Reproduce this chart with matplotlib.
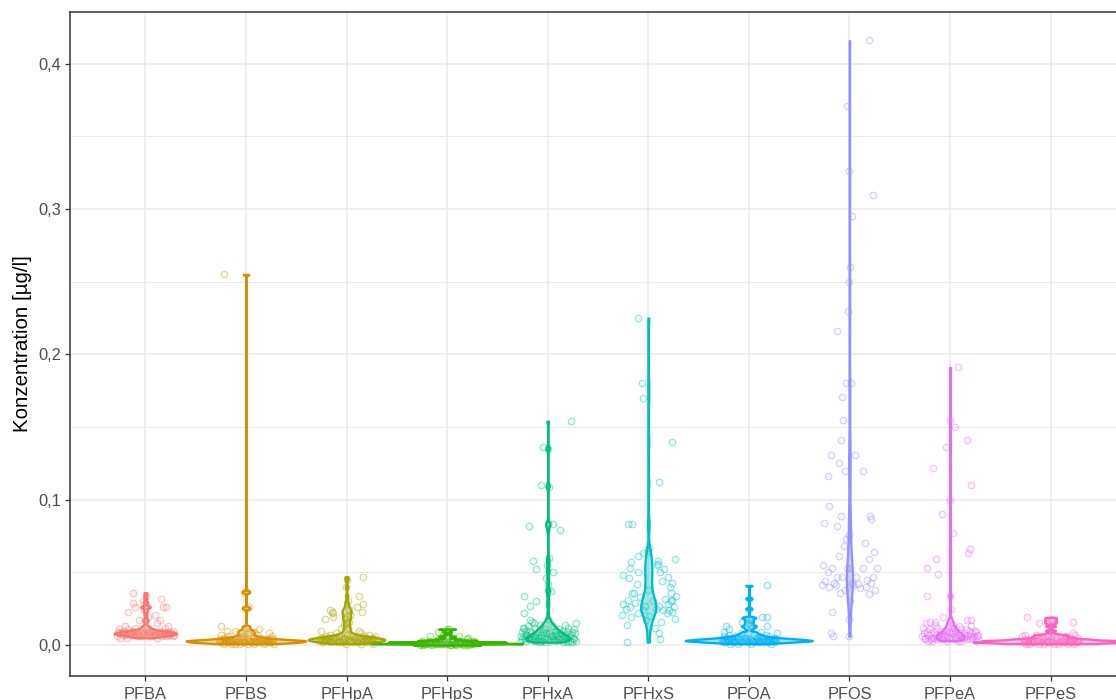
import numpy as np
import matplotlib
matplotlib.use('Agg')
import matplotlib.pyplot as plt
from matplotlib.colors import to_rgba
from matplotlib.ticker import MultipleLocator, FuncFormatter

plt.rcParams['font.family'] = ['Liberation Sans', 'DejaVu Sans']

# Categories and colours (ggplot hue palette, 10 groups)
categories = ['PFBA', 'PFBS', 'PFHpA', 'PFHpS', 'PFHxA', 'PFHxS', 'PFOA', 'PFOS', 'PFPeA', 'PFPeS']
colors = ['#F8766D', '#D89000', '#A3A500', '#39B600', '#00BF7D',
          '#00BFC4', '#00B0F6', '#9590FF', '#E76BF3', '#FF62BC']

# --- Concentrations [µg/l] ---
# scattered single values (value, horizontal jitter)
pfba_hi = [0.036, 0.032, 0.029, 0.026, 0.026, 0.026, 0.023, 0.021, 0.017, 0.017, 0.015,
           0.013, 0.013, 0.034, 0.030, 0.027, 0.019, 0.024]
pfba_hi_jit = [-0.12, 0.15, -0.12, -0.10, 0.17, 0.20, -0.17, 0.10, 0.14, -0.06, 0.12,
               0.22, -0.20, 0.01, -0.02, 0.02, 0.03, -0.01]
pfbs_hi = [0.255, 0.036, 0.026, 0.013, 0.010, 0.010, 0.011, 0.008, 0.012, 0.009, 0.008,
           0.009, 0.037, 0.025]
pfbs_hi_jit = [-0.22, -0.02, 0.03, -0.25, -0.19, -0.11, 0.13, 0.23, 0.01, 0.03, -0.05,
               0.08, 0.0, 0.0]
pfhpa_hi = [0.047, 0.034, 0.028, 0.026, 0.023, 0.023, 0.022, 0.024, 0.018, 0.019, 0.012,
            0.025, 0.045, 0.040, 0.030, 0.021, 0.018, 0.016, 0.014, 0.012, 0.020, 0.015]
pfhpa_hi_jit = [0.16, 0.12, 0.16, 0.10, 0.15, -0.14, -0.13, -0.16, -0.21, -0.13, -0.06,
                0.02, 0.0, -0.01, 0.01, 0.03, -0.02, 0.02, -0.03, 0.01, 0.0, 0.0]
pfhps_hi = [0.011, 0.011, 0.009, 0.006, 0.005, 0.006, 0.007, 0.010]
pfhps_hi_jit = [0.0, 0.02, -0.09, -0.17, 0.21, 0.12, -0.04, 0.0]
pfhxa_hi = [0.154, 0.136, 0.135, 0.110, 0.109, 0.082, 0.083, 0.079, 0.084, 0.058, 0.052,
            0.050, 0.046, 0.037, 0.038, 0.034, 0.030, 0.027, 0.022, 0.017, 0.015, 0.012,
            0.007, 0.060, 0.055, 0.042]
pfhxa_hi_jit = [0.23, -0.05, 0.0, -0.07, 0.01, -0.19, 0.05, 0.12, 0.0, -0.15, -0.12,
                0.05, -0.02, 0.03, 0.0, -0.24, -0.12, -0.18, -0.24, -0.18, -0.14, -0.24,
                -0.22, 0.01, -0.01, 0.0]
pfhxs_hi = [0.225, 0.180, 0.170, 0.140, 0.112, 0.083, 0.083, 0.061, 0.063, 0.057, 0.058,
            0.056, 0.055, 0.050, 0.046, 0.052, 0.047, 0.043, 0.036, 0.036, 0.031, 0.030,
            0.024, 0.002, 0.004, 0.008, 0.065, 0.067]
pfhxs_hi_jit = [-0.10, -0.06, -0.05, 0.24, 0.11, -0.20, -0.16, -0.10, -0.05, -0.17, 0.10,
                0.10, 0.09, -0.10, -0.19, 0.16, 0.20, 0.24, -0.14, 0.23, 0.24, 0.23,
                0.21, -0.21, 0.12, 0.11, 0.0, 0.01]
pfoa_hi = [0.041, 0.019, 0.019, 0.013, 0.016, 0.013, 0.011, 0.009, 0.009, 0.018, 0.017,
           0.015, 0.014, 0.012, 0.025, 0.032]
pfoa_hi_jit = [0.18, 0.13, 0.18, 0.18, -0.07, -0.23, -0.20, -0.25, 0.12, 0.0, 0.02,
               -0.01, 0.01, 0.03, 0.0, 0.0]
pfos_hi = [0.416, 0.371, 0.326, 0.310, 0.295, 0.260, 0.250, 0.230, 0.216, 0.180, 0.180,
           0.171, 0.155, 0.141, 0.131, 0.131, 0.125, 0.120, 0.120, 0.116, 0.096, 0.084,
           0.082, 0.089, 0.089, 0.087, 0.073, 0.076, 0.023, 0.008, 0.006, 0.006, 0.030,
           0.018]
pfos_hi_jit = [0.19, -0.02, 0.0, 0.23, 0.03, 0.01, 0.0, -0.01, -0.12, -0.03, 0.02,
               -0.07, -0.06, -0.08, -0.18, 0.06, -0.10, -0.04, 0.13, -0.21, -0.20, -0.25,
               -0.12, -0.08, 0.20, 0.21, -0.03, 0.0, -0.17, -0.18, -0.16, 0.0, 0.01,
               0.0]
pfpea_hi = [0.191, 0.150, 0.141, 0.136, 0.122, 0.110, 0.090, 0.077, 0.066, 0.063, 0.059,
            0.053, 0.049, 0.034, 0.034, 0.016, 0.016, 0.017, 0.100, 0.155, 0.025]
pfpea_hi_jit = [0.08, 0.05, 0.17, -0.04, -0.17, 0.21, -0.08, 0.03, 0.20, 0.18, -0.14,
                -0.23, -0.12, -0.23, 0.0, -0.20, -0.15, 0.21, 0.0, 0.0, 0.01]
pfpes_hi = [0.018, 0.019, 0.016, 0.015, 0.008, 0.007, 0.017, 0.013, 0.010]
pfpes_hi_jit = [0.0, -0.23, 0.22, -0.12, 0.22, -0.25, 0.01, 0.0, 0.0]

# dense low-level clusters as frequency tables (level, count)
pfba_lv, pfba_n = [0.005, 0.006, 0.007, 0.008, 0.009, 0.010, 0.011, 0.012], [3, 7, 12, 14, 11, 6, 3, 2]
pfbs_lv, pfbs_n = [0.001, 0.002, 0.003, 0.004, 0.005, 0.006, 0.007], [8, 14, 16, 9, 5, 3, 2]
pfhpa_lv, pfhpa_n = [0.001, 0.002, 0.003, 0.004, 0.005, 0.006, 0.007, 0.008, 0.010], [3, 8, 13, 14, 9, 5, 3, 2, 2]
pfhps_lv, pfhps_n = [0.000, 0.001, 0.002, 0.003, 0.004], [8, 18, 14, 7, 3]
pfhxa_lv = [0.002, 0.003, 0.004, 0.005, 0.006, 0.007, 0.008, 0.009, 0.010, 0.011, 0.012,
            0.013, 0.014, 0.015, 0.016, 0.018]
pfhxa_n = [6, 9, 9, 8, 7, 6, 5, 5, 4, 3, 3, 2, 2, 1, 1, 1]
pfhxs_lv = [0.012, 0.014, 0.016, 0.017, 0.018, 0.019, 0.020, 0.021, 0.022, 0.023, 0.024,
            0.025, 0.026, 0.027, 0.028, 0.029, 0.030, 0.031, 0.032, 0.033, 0.034, 0.036,
            0.038, 0.040, 0.042, 0.044, 0.048, 0.050, 0.053, 0.059]
pfhxs_n = [1, 1, 1, 1, 1, 1, 1, 1, 2, 1, 2, 2, 2, 2, 2, 1, 1, 1, 1, 1, 1, 1, 1, 1, 1, 1, 1, 1, 1, 1]
pfoa_lv, pfoa_n = [0.001, 0.002, 0.003, 0.004, 0.005, 0.006, 0.007, 0.008], [4, 10, 16, 12, 7, 4, 3, 2]
pfos_lv = [0.035, 0.036, 0.038, 0.039, 0.040, 0.041, 0.042, 0.043, 0.044, 0.045, 0.047,
           0.050, 0.053, 0.055, 0.059, 0.061, 0.064, 0.068, 0.070]
pfos_n = [1, 1, 2, 1, 2, 3, 1, 3, 1, 1, 4, 1, 5, 1, 1, 1, 1, 1, 1]
pfpea_lv = [0.003, 0.004, 0.005, 0.006, 0.007, 0.008, 0.009, 0.010, 0.011, 0.012, 0.013,
            0.014, 0.015, 0.017, 0.019]
pfpea_n = [6, 8, 8, 8, 7, 6, 5, 4, 3, 3, 2, 2, 1, 1, 1]
pfpes_lv, pfpes_n = [0.001, 0.002, 0.003, 0.004, 0.005, 0.006, 0.007], [8, 14, 12, 7, 4, 3, 2]

# horizontal jitter read for the clustered points (reused, shifted per group)
jitter_pool = [-0.25, 0.12, -0.18, 0.27, 0.05, -0.08, 0.20, -0.28, 0.15, -0.03,
               0.24, -0.14, 0.08, -0.22, 0.18, -0.06, 0.28, -0.11, 0.02, 0.22,
               -0.19, 0.10, -0.26, 0.14, -0.01, 0.26, -0.16, 0.06, -0.23, 0.19,
               -0.09, 0.25, -0.04, 0.11, -0.20, 0.16, -0.13, 0.04, -0.27, 0.09,
               0.21, -0.15, 0.03, -0.24, 0.17, -0.07, 0.23, -0.12, 0.07, -0.21,
               0.13, -0.02, 0.27, -0.17, 0.01, -0.26, 0.19, -0.10, 0.24, -0.05,
               0.15, -0.22, 0.08, -0.18, 0.26, -0.03, 0.11, -0.25, 0.20, -0.13,
               0.05, -0.20, 0.17, -0.08, 0.28, -0.16, 0.00, 0.22, -0.11, 0.14]
pool_start = [0, 11, 23, 37, 5, 48, 17, 29, 61, 42]

hi_vals = [pfba_hi, pfbs_hi, pfhpa_hi, pfhps_hi, pfhxa_hi, pfhxs_hi, pfoa_hi, pfos_hi, pfpea_hi, pfpes_hi]
hi_jits = [pfba_hi_jit, pfbs_hi_jit, pfhpa_hi_jit, pfhps_hi_jit, pfhxa_hi_jit, pfhxs_hi_jit,
           pfoa_hi_jit, pfos_hi_jit, pfpea_hi_jit, pfpes_hi_jit]
levels = [pfba_lv, pfbs_lv, pfhpa_lv, pfhps_lv, pfhxa_lv, pfhxs_lv, pfoa_lv, pfos_lv, pfpea_lv, pfpes_lv]
counts = [pfba_n, pfbs_n, pfhpa_n, pfhps_n, pfhxa_n, pfhxs_n, pfoa_n, pfos_n, pfpea_n, pfpes_n]

# violin full widths (x units) as drawn in the original
violin_widths = [0.62, 1.19, 0.76, 1.5, 0.44, 0.15, 1.26, 0.06, 0.28, 1.54]
bw_adjust = 0.5

values, jitters = [], []
for hv, hj, lv, n, st in zip(hi_vals, hi_jits, levels, counts, pool_start):
    low = np.repeat(lv, n)
    jl = np.roll(jitter_pool, -st)[:len(low)]
    values.append(np.concatenate([hv, low]))
    jitters.append(np.concatenate([hj, jl]))


def bw_nrd0(kde):
    # R's bw.nrd0 (times adjust) expressed as a factor of the sample sd
    d = np.asarray(kde.dataset).ravel()
    sd = d.std(ddof=1)
    q75, q25 = np.percentile(d, [75, 25])
    lo = min(sd, (q75 - q25) / 1.34)
    if lo <= 0:
        lo = sd
    return bw_adjust * 0.9 * lo * len(d) ** -0.2 / sd


fig = plt.figure(figsize=(11.16, 7.0), dpi=100)
ax = fig.add_axes([70 / 1116, 24 / 700, 1056 / 1116, 664 / 700])

positions = np.arange(1, len(categories) + 1)
vp = ax.violinplot(values, positions=positions, widths=violin_widths,
                   showextrema=False, bw_method=bw_nrd0, points=3000)
for body, c in zip(vp['bodies'], colors):
    body.set_alpha(None)
    body.set_facecolor(to_rgba(c, 0.35))
    body.set_edgecolor(c)
    body.set_linewidth(1.7)
    body.set_zorder(2)

for pos, vals, jit, c in zip(positions, values, jitters, colors):
    ax.scatter(pos + jit, vals, s=22, marker='o',
               facecolors=[to_rgba(c, 0.06)], edgecolors=[to_rgba(c, 0.38)],
               linewidths=0.9, zorder=3)

# axes styling (theme_bw look)
ax.set_xlim(0.25, 10.75)
ax.set_ylim(-0.0213, 0.4356)
ax.set_xticks(positions)
ax.set_xticklabels(categories)
ax.yaxis.set_major_locator(MultipleLocator(0.1))
ax.yaxis.set_minor_locator(MultipleLocator(0.05))
ax.yaxis.set_major_formatter(FuncFormatter(lambda v, p: f'{v:.1f}'.replace('.', ',')))

ax.set_axisbelow(True)
ax.grid(which='major', color='#EBEBEB', linewidth=1.1)
ax.grid(which='minor', axis='y', color='#EBEBEB', linewidth=0.7)
for sp in ax.spines.values():
    sp.set_color('#333333')
    sp.set_linewidth(1.1)

ax.tick_params(axis='both', which='major', direction='out', length=3.6, width=0.9,
               color='#333333', labelcolor='#4D4D4D', labelsize=11.8)
ax.tick_params(axis='y', which='minor', length=0)
ax.tick_params(axis='x', pad=4.5)
ax.tick_params(axis='y', pad=3)

ax.set_ylabel('Konzentration [µg/l]', fontsize=14.8, color='black', labelpad=4)

fig.savefig('out.png', dpi=100)
